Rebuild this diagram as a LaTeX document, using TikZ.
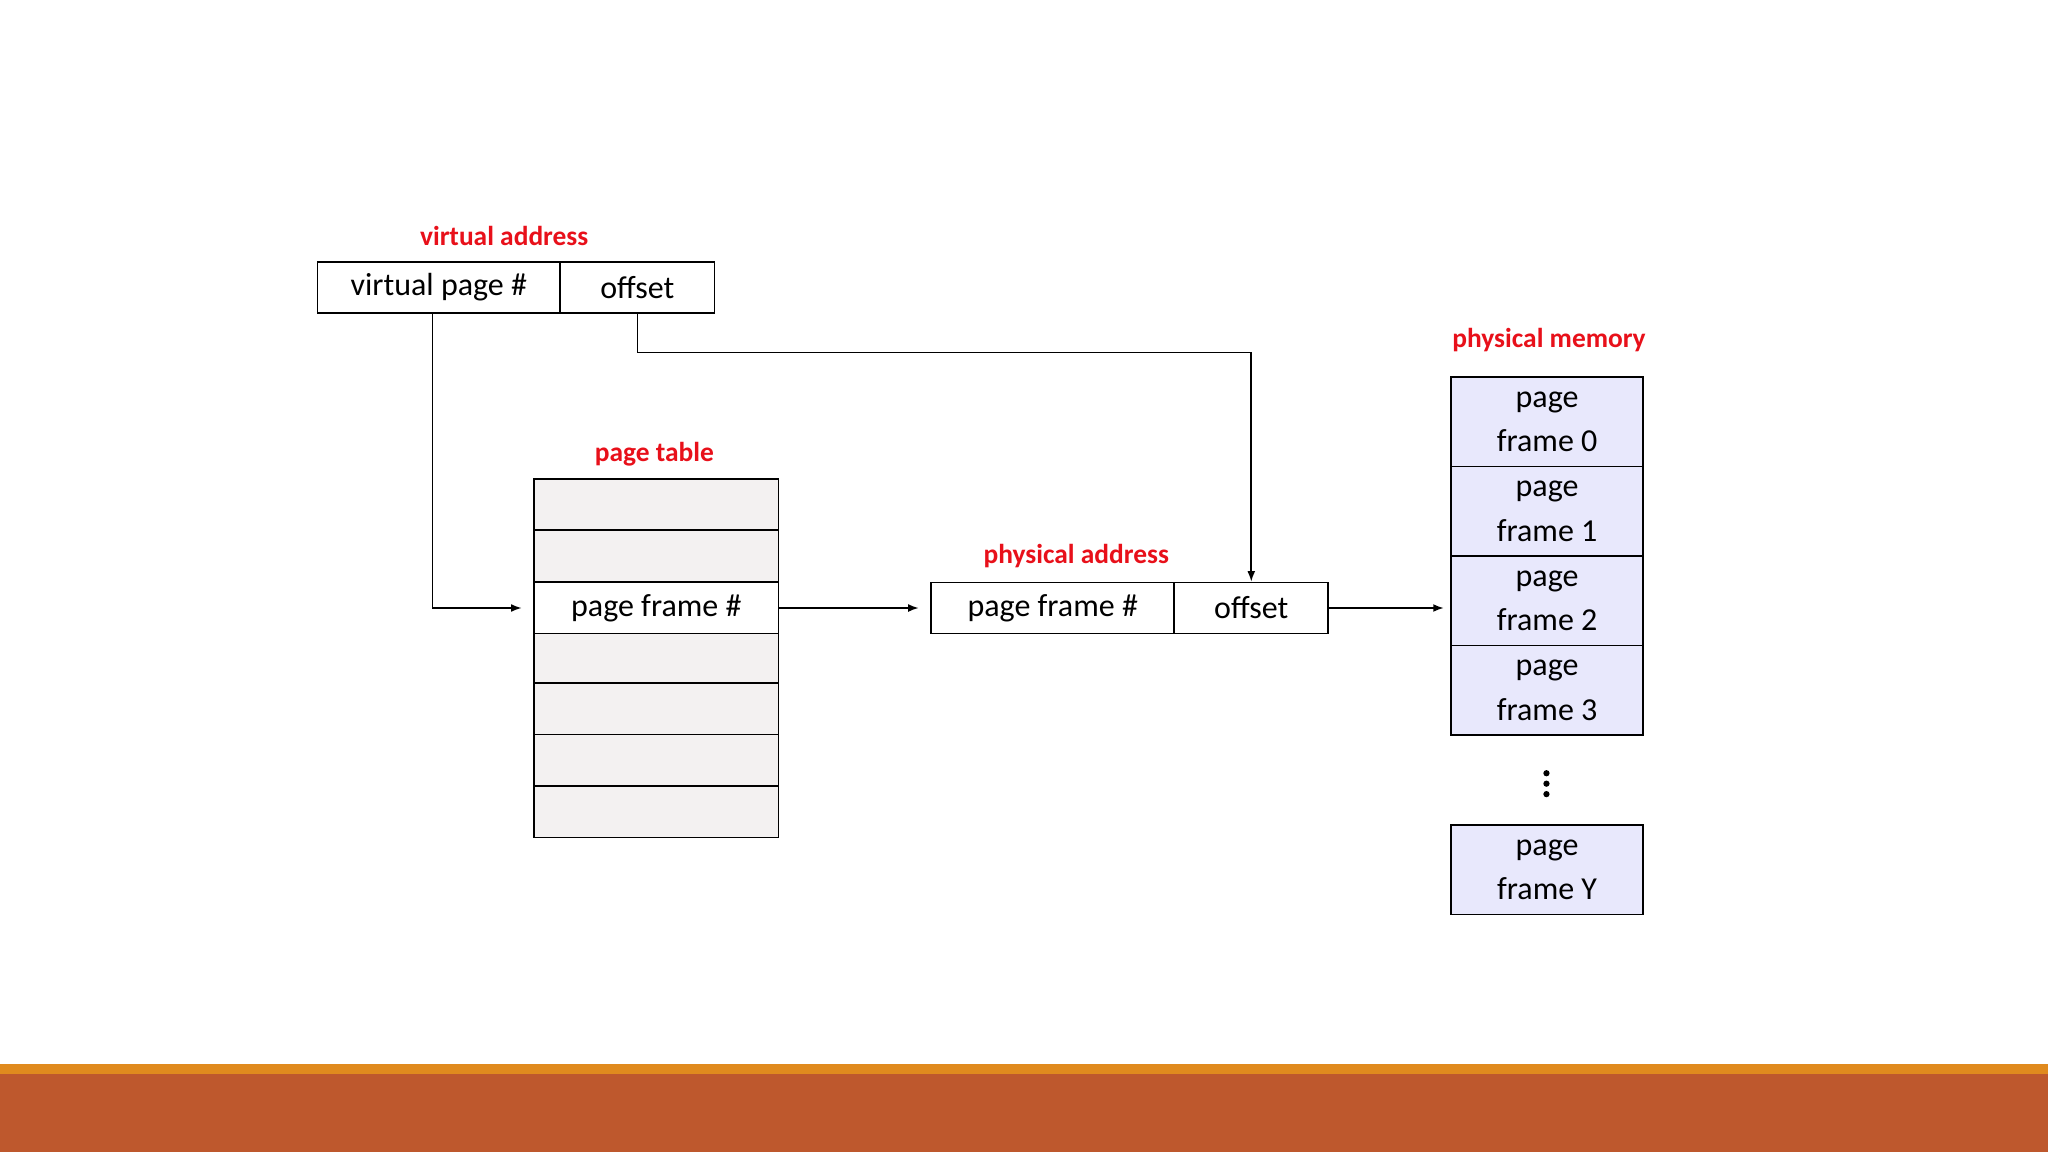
\documentclass[tikz,border=0pt]{standalone}
\usepackage{fontspec}
\setmainfont{Carlito}
\usetikzlibrary{arrows.meta}
\definecolor{lbl}{HTML}{E8101A}
\definecolor{ptgray}{HTML}{F3F1F1}
\definecolor{lav}{HTML}{E8E8FC}
\definecolor{barO}{HTML}{E08A1E}
\definecolor{barB}{HTML}{BE582D}
\begin{document}
\begin{tikzpicture}[x=1pt,y=-1pt,
  cell/.style={draw,line width=1.3pt,inner sep=0pt,font=\fontsize{24.5}{27}\selectfont},
  lab/.style={text=lbl,font=\bfseries\fontsize{21}{23}\selectfont},
  conn/.style={line width=1.2pt,-{Latex[length=8pt,width=6pt]}}]
\useasboundingbox (0,0) rectangle (1568,882);
\fill[white] (0,0) rectangle (1568,882);
\fill[barO] (0,815) rectangle (1568,822);
\fill[barB] (0,822) rectangle (1568,882);
% virtual address
\node[lab] (vl) at (386,181) {virtual address};
\node[cell,minimum width=186pt,minimum height=39pt] (vpn) at (336,220) {virtual page \#};
\node[cell,minimum width=118pt,minimum height=39pt] (voff) at (488,220) {offset};
% page table
\node[lab] (ptl) at (501,348) {page table};
\foreach \i/\y in {0/386.5,1/425.5,3/503.5,4/542.5,5/582,6/621.5}
  \node[cell,fill=ptgray,minimum width=187pt,minimum height=39.5pt] (pt\i) at (502.5,\y) {};
\node[cell,fill=white,minimum width=187pt,minimum height=39pt] (pt2) at (502.5,465.5) {page frame \#};
% physical address
\node[lab] (pal) at (824,426) {physical address};
\node[cell,minimum width=186pt,minimum height=39pt] (ppn) at (806,465.5) {page frame \#};
\node[cell,minimum width=118pt,minimum height=39pt] (poff) at (958,465.5) {offset};
% physical memory
\node[lab] (pml) at (1186,260) {physical memory};
\foreach \n/\y/\t in {f0/323/0,f1/391.5/1,f2/460/2,f3/528.5/3,fy/666/Y}
  \node[cell,fill=lav,minimum width=147pt,minimum height=68.5pt,align=center,
    font=\fontsize{24.5}{34}\selectfont] (\n) at (1184.5,\y) {page\\frame \t};
\coordinate (dots) at (1184,600);
\foreach \d in {-8,0,8} \fill ([yshift=\d pt]dots) circle (2.4pt);
% connectors
\coordinate (a1) at (331,239);
\draw[conn] (a1) |- ([xshift=-9pt]pt2.west);
\coordinate (a2) at (488,239);
\draw[conn] (a2) -- (488,270) -| (poff.north);
\draw[conn] (pt2.east) -- ([xshift=-9pt]ppn.west);
\coordinate (m2) at (f2.west |- poff.east);
\draw[conn] (poff.east) -- ([xshift=-5pt]m2);
\end{tikzpicture}
\end{document}
